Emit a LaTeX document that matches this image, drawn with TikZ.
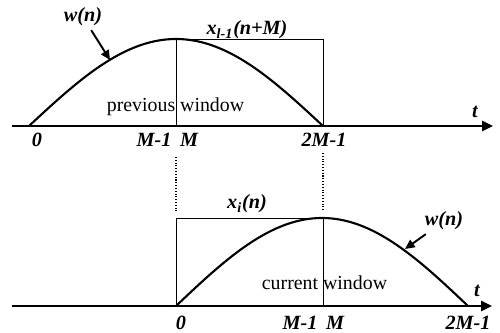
\documentclass[tikz,border=0pt]{standalone}
\usepackage{fontspec}
\setmainfont{Liberation Serif}
\usetikzlibrary{arrows.meta}
\usetikzlibrary{positioning}

\begin{document}
\begin{tikzpicture}[x=0.02cm,y=-0.02cm,
  axisline/.style={line width=1.1pt,-{Triangle[length=6.2pt,width=5.8pt]}},
  winline/.style={line width=1.2pt},
  boxline/.style={line width=0.55pt},
  ptr/.style={line width=1.1pt,-{Triangle[length=5.5pt,width=5pt]}},
  lbl/.style={font=\fontsize{11.5}{13}\selectfont\bfseries\itshape,anchor=base,inner sep=2pt},
  txt/.style={font=\fontsize{11.3}{13}\selectfont,anchor=base,inner sep=1pt}]
\useasboundingbox (0,0) rectangle (500,333);

% previous window
\draw[axisline] (12,126) -- (493,126);
\draw[boxline] (176,126) -- (176,39) -- (323,39) -- (323,126);
\draw[winline,domain=0:1,samples=80] plot ({29+294*\x},{126-87*sin(180*\x)});
\node[txt] (prevwin) at (175.5,112) {previous window};
\node[lbl] (xprev) at (247,35) {x\textsubscript{l-1}(n+M)};
\node[lbl] (wtop) at (83,22) {w(n)};
\coordinate (wtopTip) at (110,60);
\draw[ptr] (wtop) -- (wtopTip);
\node[lbl] (zeroA) at (37,147) {0};
\node[lbl] (mmA) at (154,147) {M-1};
\node[lbl] (mA) at (189,147) {M};
\node[lbl] (twomA) at (324,147) {2M-1};
\node[lbl] (tA) at (475,118) {t};

% dotted guides
\draw[densely dotted,line width=0.6pt] (176,157) -- (176,212);
\draw[densely dotted,line width=0.6pt] (323,153) -- (323,212);

% current window
\draw[axisline] (12,306) -- (492,306);
\draw[boxline] (176,306) -- (176,218) -- (323,218) -- (323,306);
\draw[winline,domain=0:1,samples=80] plot ({176+292*\x},{306-88*sin(180*\x)});
\node[txt] (curwin) at (324.5,290) {current window};
\node[lbl] (xcur) at (247,209) {x\textsubscript{i}(n)};
\node[lbl] (wbot) at (444,226) {w(n)};
\coordinate (wbotTip) at (405,249);
\draw[ptr] (wbot) -- (wbotTip);
\node[lbl] (zeroB) at (181,330) {0};
\node[lbl] (mmB) at (300,330) {M-1};
\node[lbl] (mB) at (335,330) {M};
\node[lbl] (twomB) at (468,330) {2M-1};
\node[lbl] (tB) at (477,297) {t};

\end{tikzpicture}
\end{document}
